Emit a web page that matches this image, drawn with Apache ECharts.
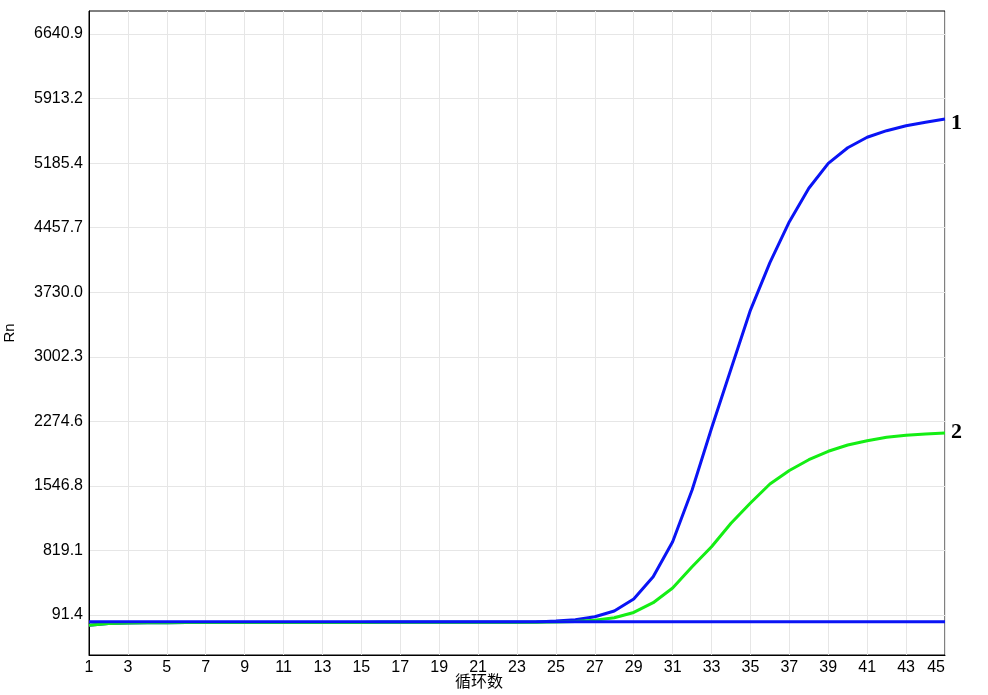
<!DOCTYPE html>
<html>
<head>
<meta charset="utf-8">
<script src="https://cdn.jsdelivr.net/npm/echarts@6/dist/echarts.min.js"></script>
<style>html,body{margin:0;padding:0;background:#fff}#c{width:988px;height:695px}</style>
</head>
<body>
<div id="c"></div>
<script>
// Cycle numbers (x values)
const cycles = Array.from({length: 45}, (_, i) => i + 1);
// Y tick labels
const yTicks = [91.4, 819.1, 1546.8, 2274.6, 3002.3, 3730.0, 4457.7, 5185.4, 5913.2, 6640.9];
// Series 1 (blue amplification curve)
const curve1 = [-25, -5, 2, 4, 5, 6, 7, 7, 8, 8, 8, 8, 8, 8, 8, 9, 9, 9, 9, 9, 10, 10, 11, 13,
  24, 38, 72, 137, 272, 523, 918, 1500, 2196, 2864, 3529, 4063, 4525, 4902, 5183, 5359, 5477, 5551, 5607, 5646, 5683];
// Series 2 (green amplification curve)
const curve2 = [-25, -5, 2, 4, 5, 6, 7, 7, 8, 8, 8, 8, 8, 8, 8, 9, 9, 9, 9, 9, 10, 10, 10, 11,
  12, 18, 31, 61, 120, 230, 396, 636, 861, 1125, 1354, 1568, 1720, 1842, 1937, 2008, 2056, 2095, 2117, 2132, 2143];
// Flat baseline (blue, no amplification)
const flat = [14, 14, 14, 14, 14, 14, 14, 14, 14, 14, 14, 14, 14, 14, 14, 14, 14, 14, 14, 14, 14, 14, 14, 14,
  14, 14, 14, 14, 14, 14, 14, 14, 14, 14, 14, 14, 14, 14, 14, 14, 14, 14, 14, 14, 14];
const yMin = -359.5, yMax = 6900.2;

const pairs = (arr) => arr.map((v, i) => [cycles[i], v]);
const chart = echarts.init(document.getElementById('c'), null, {renderer: 'canvas'});
const labelFont = {fontFamily: 'Liberation Sans, Arial, sans-serif', fontSize: 16, color: '#000'};
const endLbl = (txt, dy) => ({
  show: true, formatter: () => txt, distance: 6, offset: [0, dy],
  fontFamily: 'Liberation Serif, Times New Roman, serif', fontWeight: 'bold', fontSize: 22, color: '#000'
});
chart.setOption({
  animation: false,
  backgroundColor: '#fff',
  grid: {left: 89, right: 43, top: 11, bottom: 40, show: true, borderColor: '#000', borderWidth: 1,
    containLabel: false, outerBoundsMode: 'none'},
  xAxis: {
    type: 'value', min: 1, max: 45, interval: 2,
    axisLine: {show: true, onZero: false, lineStyle: {color: '#000', width: 1}},
    axisTick: {show: false},
    axisLabel: Object.assign({margin: 5, alignMaxLabel: 'right'}, labelFont),
    splitLine: {show: true, lineStyle: {color: '#e6e6e6', width: 1}}
  },
  yAxis: {
    type: 'value', min: yMin, max: yMax,
    name: 'Rn', nameLocation: 'middle', nameGap: 72,
    nameTextStyle: {fontFamily: 'Liberation Sans, Arial, sans-serif', fontSize: 15, color: '#000'},
    axisLine: {show: true, onZero: false, lineStyle: {color: '#000', width: 1}},
    axisTick: {show: false, customValues: yTicks},
    axisLabel: Object.assign({customValues: yTicks, margin: 6, formatter: (v) => Number(v).toFixed(1)}, labelFont),
    splitLine: {show: true, lineStyle: {color: '#e6e6e6', width: 1}}
  },
  graphic: [{
    type: 'text', left: 455, top: 673,
    style: {text: '循环数', font: '16px "Noto Sans CJK SC", sans-serif', fill: '#000'}
  }],
  series: [
    {type: 'line', data: pairs(curve1), showSymbol: false, symbol: 'none', lineStyle: {color: '#0a14f5', width: 3}, itemStyle: {color: '#0a14f5'}, endLabel: endLbl('1', 4), z: 2},
    {type: 'line', data: pairs(curve2), showSymbol: false, symbol: 'none', lineStyle: {color: '#14ee14', width: 3}, itemStyle: {color: '#14ee14'}, endLabel: endLbl('2', -1), z: 2},
    {type: 'line', data: pairs(flat), showSymbol: false, symbol: 'none', lineStyle: {color: '#0a14f5', width: 3}, itemStyle: {color: '#0a14f5'}, z: 3}
  ]
});
</script>
</body>
</html>
